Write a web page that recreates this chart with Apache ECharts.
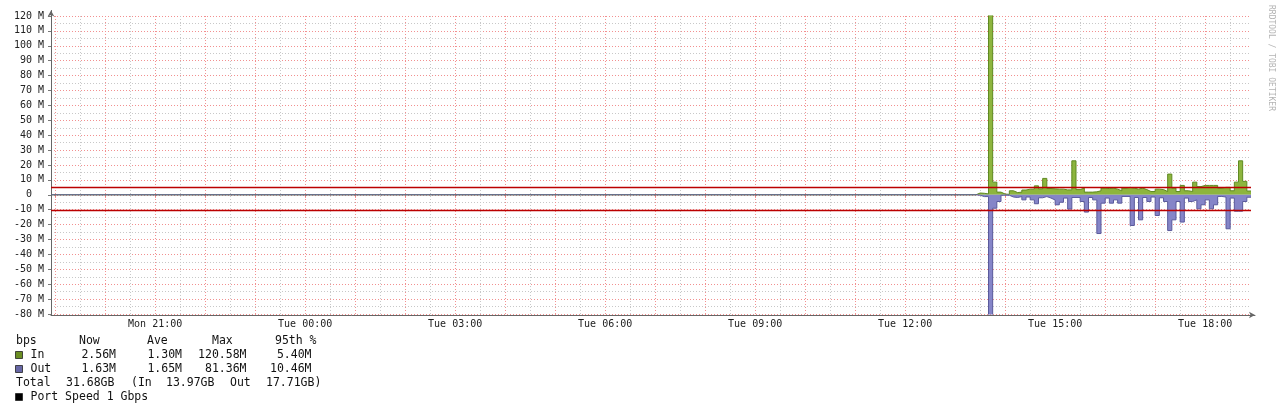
<!DOCTYPE html>
<html><head><meta charset="utf-8">
<script src="https://cdn.jsdelivr.net/npm/echarts@6/dist/echarts.min.js"></script>
<style>html,body{margin:0;padding:0;background:#fff}#c{width:1281px;height:411px}</style>
</head><body><div id="c"></div>
<script>
// ---- time slots (5 minute steps, Mon 18:55 .. Tue 18:55) ----
const slotStartMinutes = 18 * 60 + 55;
const slotCount = 289;
const categories = [];
for (let i = 0; i < slotCount; i++) {
  const m = slotStartMinutes + i * 5;
  const day = m >= 1440 ? 'Tue' : 'Mon';
  const mm = m % 1440;
  categories.push(day + ' ' + String(Math.floor(mm / 60)).padStart(2, '0') + ':' + String(mm % 60).padStart(2, '0'));
}
const xTickLabels = ['Mon 21:00', 'Tue 00:00', 'Tue 03:00', 'Tue 06:00', 'Tue 09:00', 'Tue 12:00', 'Tue 15:00', 'Tue 18:00'];

// ---- traffic (Mbps), quiet (0) until Tue 13:25, values from Tue 13:30 ----
const quietFrom = 'Mon 18:55';
const quietTo = 'Tue 13:25';
const activeFrom = 'Tue 13:30';
const inValues = [1.2,1.0,0.6,120.58,8.5,1.8,0.5,0.3,2.7,1.5,
  1.8,3.2,3.8,3.8,6.0,4.0,11.0,4.2,4.0,3.8,
  3.8,3.3,3.3,22.8,3.5,4.5,1.8,1.8,2.0,2.7,
  4.5,4.2,4.5,3.8,2.7,4.5,5.0,4.5,3.8,4.5,
  3.5,2.2,2.2,3.8,3.5,2.2,13.9,4.5,2.2,6.3,
  2.7,2.2,8.5,5.5,6.3,6.3,6.3,6.3,4.5,5.0,
  5.0,2.7,8.5,22.8,9.0,2.56];
const outValues = [0.3,1.2,1.2,81.36,9.0,4.5,0.3,0.3,1.5,1.8,
  1.2,3.4,1.5,3.4,6.0,2.0,1.2,2.2,3.5,6.7,
  5.0,2.2,9.6,1.8,1.8,4.5,11.6,1.8,3.4,26.0,
  5.6,2.2,5.6,3.4,5.6,1.1,1.1,20.6,1.8,16.8,
  1.8,4.5,1.5,13.9,2.0,4.5,24.0,16.8,4.5,18.3,
  2.2,4.5,3.4,9.4,6.7,3.4,9.4,6.7,1.1,1.5,
  22.8,2.2,11.0,11.0,4.5,1.63];
const p95In = 5.40;
const p95Out = 10.46;

// ---- legend texts ----
const legendHeader = ['bps', 'Now', 'Ave', 'Max', '95th %'];
const inStats = ['2.56M', '1.30M', '120.58M', '5.40M'];
const outStats = ['1.63M', '1.65M', '81.36M', '10.46M'];
const totalRow = ['Total', '31.68GB', '(In', '13.97GB', 'Out', '17.71GB)'];
const portSpeed = 'Port Speed 1 Gbps';
const credit = 'RRDTOOL / TOBI OETIKER';

const IN_AREA = '#8db53e', IN_LINE = '#5f8a22', IN_BOX = '#6b8e23';
const OUT_AREA = '#8585c8', OUT_LINE = '#5a5a9c', OUT_BOX = '#6767a5';
const GRID_MAJOR = '#f29090', GRID_MINOR = '#c8c8c8';

function buildSeries(values, sign) {
  const a = categories.indexOf(quietFrom), b = categories.indexOf(quietTo), s = categories.indexOf(activeFrom);
  const d = [[a, 0], [b, 0]];
  values.forEach((v, k) => d.push([s + k, sign * v]));
  return d;
}

const mono = '"DejaVu Sans Mono", monospace';
const lf = '11.5px ' + mono;
function txt(t, x, y, align, extra) {
  return Object.assign({ type: 'text', x: x, y: y, silent: true,
    style: { text: t, font: lf, fill: '#111', align: align || 'left', textAlign: align || 'left', verticalAlign: 'middle', textVerticalAlign: 'middle' } }, extra || {});
}
function box(x, y, color) {
  return { type: 'rect', silent: true, shape: { x: x, y: y, width: 7, height: 7 }, style: { fill: color, stroke: '#222', lineWidth: 0.8 } };
}
const r1 = 341, r2 = 355, r3 = 369, r4 = 383, r5 = 397;
const statRight = [116, 182, 246.5, 311.5];
const graphics = [
  txt(legendHeader[0], 16, r1), txt(legendHeader[1], 79, r1), txt(legendHeader[2], 147, r1), txt(legendHeader[3], 212, r1), txt(legendHeader[4], 275, r1),
  box(15.5, r2 - 3.5, IN_BOX), txt('In', 30.5, r2),
  box(15.5, r3 - 3.5, OUT_BOX), txt('Out', 30.5, r3),
  txt(totalRow[0], 16, r4), txt(totalRow[1], 66, r4), txt(totalRow[2], 131, r4), txt(totalRow[3], 166, r4), txt(totalRow[4], 230, r4), txt(totalRow[5], 266, r4),
  box(15.5, r5 - 3.5, '#000'), txt(portSpeed, 30.5, r5),
  { type: 'text', x: 1271, y: 5, rotation: -Math.PI / 2, silent: true,
    style: { text: credit, font: '8px ' + mono, fill: '#b4b4b4', align: 'left', textAlign: 'left', verticalAlign: 'middle', textVerticalAlign: 'middle' } }
];
inStats.forEach((t, i) => graphics.push(txt(t, statRight[i], r2, 'right')));
outStats.forEach((t, i) => graphics.push(txt(t, statRight[i], r3, 'right')));

const chart = echarts.init(document.getElementById('c'), null, { renderer: 'canvas' });
chart.setOption({
  animation: false,
  backgroundColor: '#fff',
  grid: [
    { left: 51, right: 30, top: 16, bottom: 97, containLabel: false, outerBoundsMode: 'none' },
    { left: 51, right: 26, top: 10.5, bottom: 96, containLabel: false, outerBoundsMode: 'none' }
  ],
  xAxis: [
    { type: 'category', gridIndex: 0, data: categories, boundaryGap: false,
      axisLine: { show: false },
      axisTick: { show: true, length: 3, interval: (i, v) => v.endsWith(':00'), lineStyle: { color: '#f08080' } },
      axisLabel: { interval: (i, v) => xTickLabels.indexOf(v) >= 0, margin: 5, fontFamily: 'DejaVu Sans Mono', fontSize: 10, color: '#222', hideOverlap: false },
      // hourly (pink) and half-hourly (grey) lines alternate
      splitLine: { show: true, interval: (i, v) => v.endsWith(':00') || v.endsWith(':30'),
        lineStyle: { color: [GRID_MAJOR, GRID_MINOR], width: 1, type: [1, 2] } } },
    { type: 'value', gridIndex: 1, min: 0, max: 1,
      axisLine: { show: true, symbol: ['none', 'arrow'], symbolSize: [5, 6], lineStyle: { color: '#666', width: 1 } },
      axisTick: { show: false }, axisLabel: { show: false }, splitLine: { show: false } }
  ],
  yAxis: [
    { type: 'value', gridIndex: 0, min: -80, max: 120, interval: 10,
      axisLine: { show: false },
      axisTick: { show: true, length: 3, lineStyle: { color: '#777' } },
      axisLabel: { margin: 7, fontFamily: 'DejaVu Sans Mono', fontSize: 10, color: '#222',
        formatter: v => v === 0 ? '0  ' : v + ' M' },
      splitLine: { show: true, lineStyle: { color: GRID_MAJOR, width: 1, type: [1, 2] } },
      minorTick: { show: false, splitNumber: 2 },
      minorSplitLine: { show: true, lineStyle: { color: GRID_MINOR, width: 1, type: [1, 2] } } },
    { type: 'value', gridIndex: 1, min: 0, max: 1,
      axisLine: { show: true, symbol: ['none', 'arrow'], symbolSize: [5, 6], lineStyle: { color: '#666', width: 1 } },
      axisTick: { show: false }, axisLabel: { show: false }, splitLine: { show: false } }
  ],
  series: [
    { name: 'In', type: 'line', xAxisIndex: 0, yAxisIndex: 0, step: 'start', showSymbol: false, symbol: 'none',
      data: buildSeries(inValues, 1), lineStyle: { color: IN_LINE, width: 1 }, areaStyle: { color: IN_AREA, opacity: 1 }, z: 2, silent: true },
    { name: 'Out', type: 'line', xAxisIndex: 0, yAxisIndex: 0, step: 'start', showSymbol: false, symbol: 'none',
      data: buildSeries(outValues, -1), lineStyle: { color: OUT_LINE, width: 1 }, areaStyle: { color: OUT_AREA, opacity: 1 }, z: 3, silent: true,
      markLine: { silent: true, symbol: 'none', label: { show: false }, animation: false,
        lineStyle: { color: '#bb0000', width: 1.3, type: 'solid' },
        data: [{ yAxis: p95In }, { yAxis: -p95Out }] } }
  ],
  graphic: graphics
});
</script></body></html>
